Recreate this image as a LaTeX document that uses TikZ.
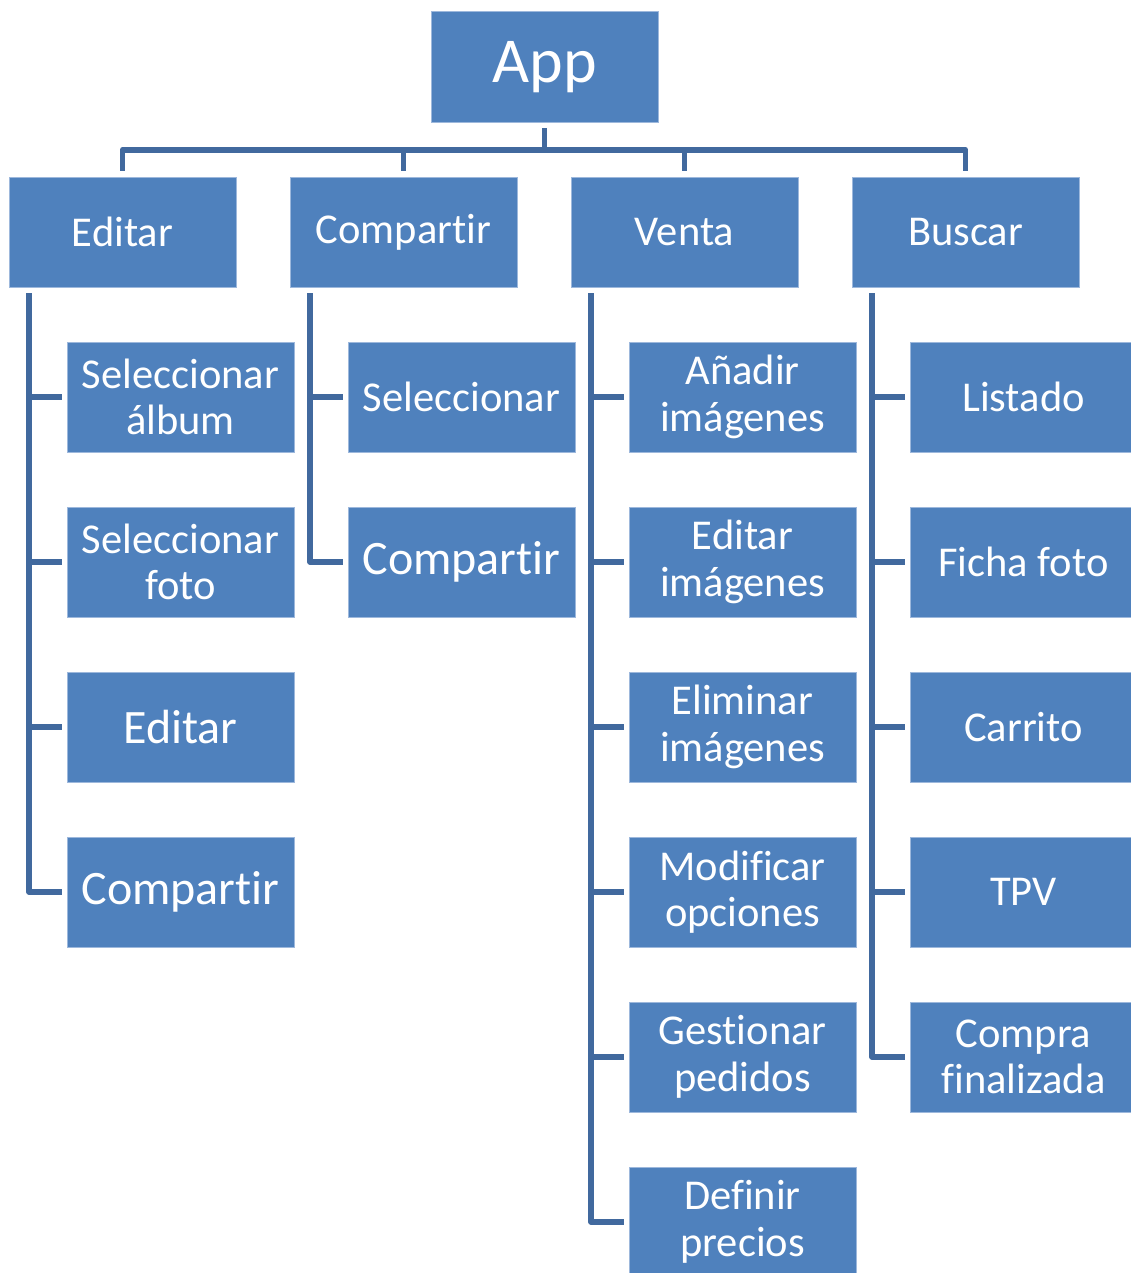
\documentclass[tikz,border=0pt]{standalone}
\usepackage{fontspec}
\setmainfont{Carlito}[Ligatures={NoCommon,NoContextual}, RawFeature={-liga;-clig;-calt;-dlig}]
\definecolor{boxblue}{HTML}{4F81BD}
\definecolor{boxedge}{HTML}{9DB8DC}
\definecolor{linkblue}{HTML}{41699E}
\newcommand\brk{\kern0pt}
\begin{document}
\begin{tikzpicture}[x=1pt,y=-1pt,
  box/.style={rectangle, fill=boxblue, draw=boxedge, line width=0.8pt,
    minimum width=227pt, minimum height=110pt, inner sep=0pt,
    text=white, align=center, font=\fontsize{42.5}{46.5}\selectfont},
  big/.style={font=\fontsize{48}{54}\selectfont},
  conn/.style={draw=linkblue, line width=5.5pt, line join=round}]
\path[use as bounding box, clip] (0,0) rectangle (1131,1273);
% root
\node[box, minimum height=111pt, text height=48pt, text depth=16pt,
      font=\fontsize{64}{72}\selectfont] (app) at (544.5,66.5) {App};
% level 1
\node[box] (editar) at (122.5,232) {Editar};
\node[box] (compartir) at (403.5,232) {Compart\brk ir};
\node[box] (venta) at (684.5,232) {Venta};
\node[box] (buscar) at (965.5,232) {Buscar};
% Editar children
\node[box] (e1) at (180.5,397) {Seleccionar\\álbum};
\node[box] (e2) at (180.5,562) {Seleccionar\\foto};
\node[box, big] (e3) at (180.5,727) {Editar};
\node[box, big] (e4) at (180.5,892) {Compart\brk ir};
% Compartir children
\node[box] (c1) at (461.5,397) {Seleccionar};
\node[box, big] (c2) at (461.5,562) {Compart\brk ir};
% Venta children
\node[box] (v1) at (742.5,397) {Añadir\\imágenes};
\node[box] (v2) at (742.5,562) {Editar\\imágenes};
\node[box] (v3) at (742.5,727) {Eliminar\\imágenes};
\node[box] (v4) at (742.5,892) {Modificar\\opciones};
\node[box] (v5) at (742.5,1057) {Gestionar\\pedidos};
\node[box] (v6) at (742.5,1222) {Definir\\precios};
% Buscar children
\node[box] (b1) at (1023.5,397) {Listado};
\node[box] (b2) at (1023.5,562) {Ficha foto};
\node[box] (b3) at (1023.5,727) {Carrito};
\node[box] (b4) at (1023.5,892) {TPV};
\node[box] (b5) at (1023.5,1057) {Compra\\finalizada};
% root connectors
\draw[conn] ([yshift=-6pt]app.south) -- ([yshift=-27.5pt]app.south);
\foreach \n in {editar,compartir,venta,buscar}
  \draw[conn] ([yshift=6pt]\n.north) |- ([yshift=-27.5pt]app.south);
% child connectors
\foreach \p/\cs in {editar/{e1,e2,e3,e4}, compartir/{c1,c2}, venta/{v1,v2,v3,v4,v5,v6}, buscar/{b1,b2,b3,b4,b5}}
  \foreach \c in \cs
    \draw[conn] ([xshift=20.5pt,yshift=-6pt]\p.south west) |- ([xshift=-5pt]\c.west);
\end{tikzpicture}
\end{document}
